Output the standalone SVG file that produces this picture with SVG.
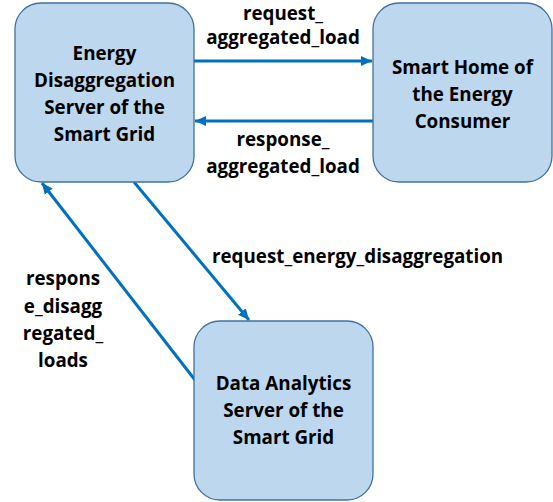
<svg xmlns="http://www.w3.org/2000/svg" width="553" height="502" viewBox="0 0 553 502">
<style>
.node{fill:#BDD7EE;stroke:#41719C;stroke-width:1.3}
.t{font-family:"Open Sans","Noto Sans","Liberation Sans",sans-serif;font-weight:bold;font-size:18.8px;fill:#000;text-anchor:middle}
.c{stroke:#0070C0;stroke-width:3;fill:none;marker-end:url(#ah)}
</style>
<defs>
<marker id="ah" markerUnits="userSpaceOnUse" markerWidth="12" markerHeight="12" refX="11" refY="5" orient="auto" viewBox="0 0 12 10">
<path d="M0,0 L11,5 L0,10 Z" fill="#0070C0"/>
</marker>
</defs>
<rect width="553" height="502" fill="#fff"/>
<g id="connectors">
<line class="c" x1="194" y1="61" x2="372" y2="61"/>
<line class="c" x1="373" y1="121" x2="195" y2="121"/>
<line class="c" x1="134" y1="182" x2="249" y2="320"/>
<line class="c" x1="195" y1="380" x2="42" y2="183"/>
<text class="t" x="283" y="19.5">request_</text>
<text class="t" x="283" y="43.5">aggregated_load</text>
<text class="t" x="283" y="146">response_</text>
<text class="t" x="283" y="173">aggregated_load</text>
<text class="t" x="212" y="263" style="text-anchor:start">request_energy_disaggregation</text>
<text class="t" x="63" y="285">respons</text>
<text class="t" x="63" y="313">e_disagg</text>
<text class="t" x="63" y="340">regated_</text>
<text class="t" x="63" y="367">loads</text>
</g>
<g id="node-eds">
<rect class="node" x="15" y="3" width="179" height="179" rx="26"/>
<text class="t" x="104.5" y="60">Energy</text>
<text class="t" x="104.5" y="87">Disaggregation</text>
<text class="t" x="104.5" y="114">Server of the</text>
<text class="t" x="104.5" y="141">Smart Grid</text>
</g>
<g id="node-home">
<rect class="node" x="373" y="3" width="179" height="179" rx="26"/>
<text class="t" x="462.5" y="74">Smart Home of</text>
<text class="t" x="462.5" y="101">the Energy</text>
<text class="t" x="462.5" y="128">Consumer</text>
</g>
<g id="node-das">
<rect class="node" x="194" y="321" width="179" height="179" rx="26"/>
<text class="t" x="283.5" y="390">Data Analytics</text>
<text class="t" x="283.5" y="417">Server of the</text>
<text class="t" x="283.5" y="444">Smart Grid</text>
</g>
</svg>
